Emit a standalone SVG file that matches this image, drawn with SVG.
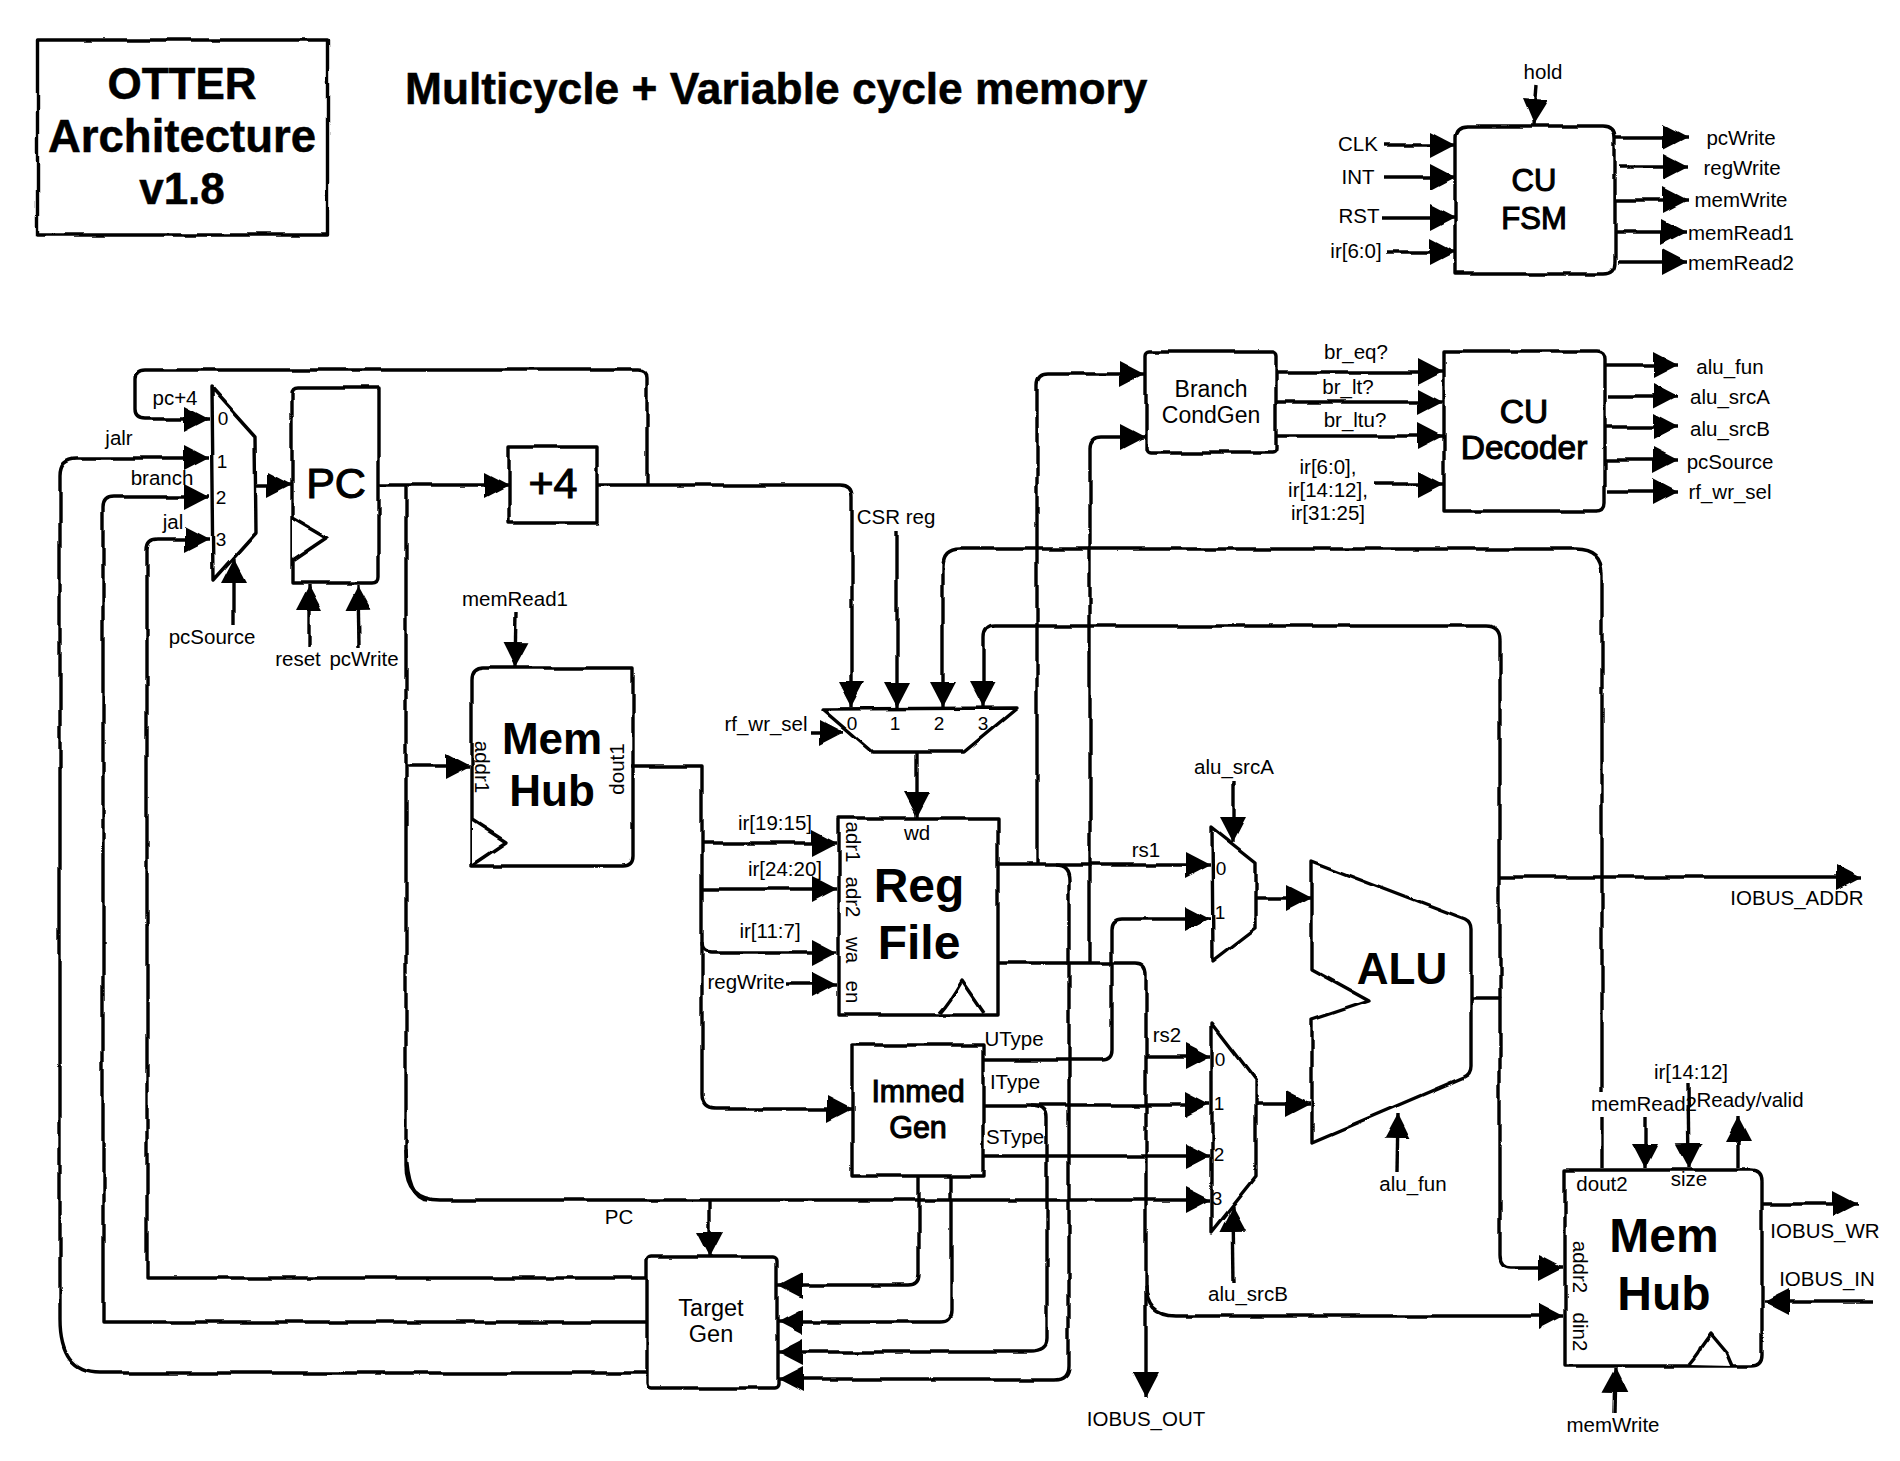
<svg xmlns="http://www.w3.org/2000/svg" width="1900" height="1461" viewBox="0 0 1900 1461">
<style>
text{font-family:"Liberation Sans",Arial,sans-serif;fill:#000}
.l{font-size:20.5px}
.d{font-size:19px}
.m{text-anchor:middle}
.b{font-weight:700}
.s{fill:#fff;stroke:#000;stroke-width:3.4;stroke-linejoin:round;filter:url(#w)}
.n{fill:none;stroke:#000;stroke-width:3.4;stroke-linejoin:round}
.t{font-size:44px;font-weight:700;text-anchor:middle}
.h{text-anchor:middle;stroke:#000;stroke-width:1.1}
</style>
<defs>
<filter id="w" filterUnits="userSpaceOnUse" x="0" y="0" width="1900" height="1461"><feTurbulence type="fractalNoise" baseFrequency="0.025" numOctaves="2" seed="4"/><feDisplacementMap in="SourceGraphic" scale="5" xChannelSelector="R" yChannelSelector="G"/></filter>
<marker id="a" markerUnits="userSpaceOnUse" markerWidth="26" markerHeight="28" refX="25" refY="14" orient="auto"><path d="M0,1 L25,14 L0,27 Z" fill="#000"/></marker>
</defs>
<rect width="1900" height="1461" fill="#fff"/>

<g id="title">
<rect class="s" x="37.500" y="40" width="290" height="195"/>
<text class="t" style="stroke:#000;stroke-width:.5" x="182" y="99">OTTER</text>
<text class="t" style="font-size:45.500px;stroke:#000;stroke-width:.5" x="182" y="152">Architecture</text>
<text class="t" style="stroke:#000;stroke-width:.5" x="182" y="204">v1.8</text>
<text class="b" x="405" y="104" style="font-size:44.300px;stroke:#000;stroke-width:.5">Multicycle + Variable cycle memory</text>
</g>

<g id="cu-fsm">
<path class="s" d="M1455,274 V138 Q1455,126 1467,126 H1603 Q1615,126 1615,138 V262 Q1615,274 1603,274 Z"/>
<text class="h" style="font-size:31px" x="1534" y="191">CU</text>
<text class="h" style="font-size:31px" x="1534" y="229">FSM</text>
</g>
<g id="cu-decoder">
<path class="s" d="M1444,351 H1597 Q1605,351 1605,359 V503 Q1605,511 1597,511 H1444 Z"/>
<text class="h" style="font-size:33.500px" x="1524" y="423">CU</text>
<text class="h" style="font-size:33.500px" x="1524" y="459">Decoder</text>
</g>
<g id="branch-condgen">
<rect class="s" x="1146" y="352" width="130" height="101" rx="4"/>
<text class="l m" style="font-size:23px" x="1211" y="397">Branch</text>
<text class="l m" style="font-size:23px" x="1211" y="423">CondGen</text>
</g>
<g id="pc-mux">
<path class="s" d="M211,388 L255,437 L256,533 L213,581 Z"/>
<text class="d m" x="223" y="425">0</text><text class="d m" x="222" y="468">1</text><text class="d m" x="221" y="504">2</text><text class="d m" x="221" y="546">3</text>
</g>
<g id="pc">
<path class="s" d="M292,583 V394 Q292,388 298,388 H379 V577 Q379,583 373,583 Z"/>
<path class="s" d="M292,517 L326,537 L292,560"/>
<text class="h" style="font-size:43px" x="336" y="498">PC</text>
</g>
<g id="plus4">
<rect class="s" x="509" y="447" width="88" height="76"/>
<text class="h" style="font-size:43px" x="553" y="498">+4</text>
</g>
<g id="mem-hub-1">
<path class="s" d="M472,866 V680 Q472,668 484,668 H633 V856 Q633,866 623,866 Z"/>
<path class="s" d="M472,820 L506,842 L472,865"/>
<text class="t" x="552" y="754">Mem</text>
<text class="t" x="552" y="806">Hub</text>
<text class="l m" transform="rotate(90 482 767)" x="482" y="774">addr1</text>
<text class="l m" transform="rotate(-90 617 769)" x="617" y="776">dout1</text>
</g>
<g id="rf-mux">
<path class="s" d="M822,709 L1017,708 L964,752 L872,752 Z"/>
<text class="d m" x="852" y="730">0</text><text class="d m" x="895" y="730">1</text><text class="d m" x="939" y="730">2</text><text class="d m" x="983" y="730">3</text>
</g>
<g id="reg-file">
<rect class="s" x="839" y="818" width="159" height="197"/>
<path class="s" d="M940,1013 Q950,1002 962,981 L984,1013"/>
<text class="t" style="font-size:48px" x="919" y="902">Reg</text>
<text class="t" style="font-size:48px" x="919" y="959">File</text>
<text class="l m" x="917" y="840">wd</text>
<text class="l m" transform="rotate(90 853 842)" x="853" y="849">adr1</text>
<text class="l m" transform="rotate(90 853 897)" x="853" y="904">adr2</text>
<text class="l m" transform="rotate(90 853 950)" x="853" y="957">wa</text>
<text class="l m" transform="rotate(90 853 992)" x="853" y="999">en</text>
</g>
<g id="immed-gen">
<rect class="s" x="852" y="1045" width="131" height="131"/>
<text class="h" style="font-size:30.500px" x="918" y="1102">Immed</text>
<text class="h" style="font-size:30.500px" x="918" y="1138">Gen</text>
</g>
<g id="target-gen">
<rect class="s" x="647" y="1257" width="130" height="131" rx="4"/>
<text class="l m" style="font-size:23.500px" x="711" y="1316">Target</text>
<text class="l m" style="font-size:23.500px" x="711" y="1342">Gen</text>
</g>
<g id="mux-a">
<path class="s" d="M1212,827 L1256,862 L1256,928 L1213,961 Z"/>
<text class="d m" x="1221" y="875">0</text><text class="d m" x="1220" y="919">1</text>
</g>
<g id="mux-b">
<path class="s" d="M1212,1023 L1256,1080 L1256,1177 L1212,1232 Z"/>
<text class="d m" x="1220" y="1066">0</text><text class="d m" x="1219" y="1110">1</text><text class="d m" x="1219" y="1161">2</text><text class="d m" x="1217" y="1205">3</text>
</g>
<g id="alu">
<path class="s" d="M1311,861 L1465,920 Q1471,923 1471,930 L1471,1066 Q1471,1074 1464,1077 L1312,1142 L1312,1020 L1369,1001 L1311,969 Z"/>
<text class="t" x="1402" y="984">ALU</text>
</g>
<g id="mem-hub-2">
<path class="s" d="M1565,1170 H1751 Q1762,1170 1762,1181 V1355 Q1762,1366 1751,1366 H1565 Z"/>
<path class="s" d="M1689,1365 Q1700,1352 1701,1347 L1711,1333 L1727,1352 L1733,1366"/>
<text class="t" style="font-size:48px" x="1664" y="1252">Mem</text>
<text class="t" style="font-size:48px" x="1664" y="1310">Hub</text>
<text class="l m" x="1602" y="1191">dout2</text>
<text class="l m" x="1689" y="1186">size</text>
<text class="l m" transform="rotate(90 1580 1267)" x="1580" y="1274">addr2</text>
<text class="l m" transform="rotate(90 1580 1332)" x="1580" y="1339">din2</text>
</g>

<g id="connectors" filter="url(#w)">
<g class="n">
<path marker-end="url(#a)" d="M1537,86 L1534,125"/>
<path marker-end="url(#a)" d="M1383,145 H1455"/>
<path marker-end="url(#a)" d="M1383,177 H1455"/>
<path marker-end="url(#a)" d="M1383,218 H1455"/>
<path marker-end="url(#a)" d="M1387,252 H1455"/>
<path marker-end="url(#a)" d="M1616,137 H1688"/>
<path marker-end="url(#a)" d="M1620,167 H1688"/>
<path marker-end="url(#a)" d="M1616,200 H1688"/>
<path marker-end="url(#a)" d="M1616,232 H1686"/>
<path marker-end="url(#a)" d="M1618,262 H1688"/>
<path marker-end="url(#a)" d="M1276,372 H1443"/>
<path marker-end="url(#a)" d="M1276,402 H1443"/>
<path marker-end="url(#a)" d="M1276,436 H1443"/>
<path marker-end="url(#a)" d="M1374,484 H1443"/>
<path marker-end="url(#a)" d="M1606,365 H1678"/>
<path marker-end="url(#a)" d="M1608,396 H1678"/>
<path marker-end="url(#a)" d="M1606,427 H1678"/>
<path marker-end="url(#a)" d="M1606,460 H1678"/>
<path marker-end="url(#a)" d="M1608,491 H1678"/>
<path marker-end="url(#a)" d="M647,485 V378 Q647,370 638,370 H145 Q135,370 135,380 V410 Q135,419 145,419 H209"/>
<path marker-end="url(#a)" d="M647,1373 H100 Q60,1373 60,1320 V475 Q60,458 77,458 H209"/>
<path marker-end="url(#a)" d="M647,1322 H103 V507 Q103,496 114,496 H209"/>
<path marker-end="url(#a)" d="M647,1278 H147 V550 Q147,539 158,539 H209"/>
<path marker-end="url(#a)" d="M234,625 V559"/>
<path marker-end="url(#a)" d="M257,485 H292"/>
<path marker-end="url(#a)" d="M379,485 H509"/>
<path marker-end="url(#a)" d="M309,647 V585"/>
<path marker-end="url(#a)" d="M359,647 L358,585"/>
<path marker-end="url(#a)" d="M516,612 L515,667"/>
<path marker-end="url(#a)" d="M406,766 H470"/>
<path marker-end="url(#a)" d="M406,485 V1165 Q406,1200 440,1200 H1210"/>
<path d="M406,1150 Q408,1200 428,1200"/>
<path marker-end="url(#a)" d="M710,1200 V1257"/>
<path marker-end="url(#a)" d="M597,485 H840 Q852,485 852,497 V707"/>
<path marker-end="url(#a)" d="M897,531 V707"/>
<path marker-end="url(#a)" d="M1602,1168 V1117 M1602,1092 V575 Q1602,549 1575,549 H960 Q943,549 943,566 V707"/>
<path marker-end="url(#a)" d="M1500,998 V640 Q1500,626 1486,626 H995 Q983,626 983,638 V707"/>
<path marker-end="url(#a)" d="M810,733 H844"/>
<path marker-end="url(#a)" d="M917,752 V817"/>
<path d="M631,766 H702 V1095 Q702,1109 715,1109"/>
<path marker-end="url(#a)" d="M702,843 H837"/>
<path marker-end="url(#a)" d="M702,889 H837"/>
<path marker-end="url(#a)" d="M702,942 Q702,952 712,952 H837"/>
<path marker-end="url(#a)" d="M787,984 H837"/>
<path marker-end="url(#a)" d="M715,1109 H852"/>
<path marker-end="url(#a)" d="M997,865 H1210"/>
<path marker-end="url(#a)" d="M1037,865 V385 Q1037,374 1048,374 H1145"/>
<path marker-end="url(#a)" d="M1090,963 V448 Q1090,437 1101,437 H1145"/>
<path marker-end="url(#a)" d="M1055,865 Q1069,865 1069,880 V1365 Q1069,1379 1055,1379 H778"/>
<path marker-end="url(#a)" d="M997,963 H1135 Q1146,963 1146,975 V1397"/>
<path marker-end="url(#a)" d="M1146,1285 Q1146,1316 1175,1316 H1563"/>
<path marker-end="url(#a)" d="M1146,1056 H1210"/>
<path marker-end="url(#a)" d="M983,1060 H1102 Q1112,1060 1112,1050 V929 Q1112,919 1122,919 H1210"/>
<path marker-end="url(#a)" d="M983,1105 H1210"/>
<path marker-end="url(#a)" d="M983,1156 H1210"/>
<path marker-end="url(#a)" d="M1030,1105 Q1047,1105 1047,1118 V1340 Q1047,1352 1030,1352 H778"/>
<path marker-end="url(#a)" d="M919,1176 V1274 Q919,1285 908,1285 H778"/>
<path marker-end="url(#a)" d="M951,1176 V1311 Q951,1322 940,1322 H778"/>
<path marker-end="url(#a)" d="M1233,780 V842"/>
<path marker-end="url(#a)" d="M1234,1283 L1233,1207"/>
<path marker-end="url(#a)" d="M1256,898 H1311"/>
<path marker-end="url(#a)" d="M1256,1104 H1310"/>
<path marker-end="url(#a)" d="M1397,1172 L1398,1113"/>
<path marker-end="url(#a)" d="M1471,998 H1500 V1255 Q1500,1267 1511,1267 H1563"/>
<path marker-end="url(#a)" d="M1500,877 H1861"/>
<path marker-end="url(#a)" d="M1645,1117 V1168"/>
<path marker-end="url(#a)" d="M1688,1083 L1689,1168"/>
<path marker-end="url(#a)" d="M1738,1168 V1117"/>
<path marker-end="url(#a)" d="M1763,1204 H1857"/>
<path marker-end="url(#a)" d="M1872,1301 H1764"/>
<path marker-end="url(#a)" d="M1614,1413 L1615,1368"/>
</g>
</g>

<g id="labels" class="l">
<g class="m" transform="translate(0 1)">
<text x="1543" y="78">hold</text>
<text x="1358" y="150">CLK</text><text x="1358" y="183">INT</text><text x="1359" y="222">RST</text><text x="1356" y="257">ir[6:0]</text>
<text x="1741" y="144">pcWrite</text><text x="1742" y="174">regWrite</text><text x="1741" y="206">memWrite</text><text x="1741" y="239">memRead1</text><text x="1741" y="269">memRead2</text>
<text x="1356" y="358">br_eq?</text><text x="1348" y="393">br_lt?</text><text x="1355" y="426">br_ltu?</text>
<text x="1328" y="473">ir[6:0],</text><text x="1328" y="496">ir[14:12],</text><text x="1328" y="519">ir[31:25]</text>
<text x="1730" y="373">alu_fun</text><text x="1730" y="403">alu_srcA</text><text x="1730" y="435">alu_srcB</text><text x="1730" y="468">pcSource</text><text x="1730" y="498">rf_wr_sel</text>
<text x="175" y="404">pc+4</text><text x="119" y="444">jalr</text><text x="162" y="484">branch</text><text x="173" y="528">jal</text>
<text x="212" y="643">pcSource</text><text x="298" y="665">reset</text><text x="364" y="665">pcWrite</text>
<text x="515" y="605">memRead1</text><text x="896" y="523">CSR reg</text><text x="766" y="730">rf_wr_sel</text>
<text x="775" y="829">ir[19:15]</text><text x="785" y="875">ir[24:20]</text><text x="770" y="937">ir[11:7]</text><text x="746" y="988">regWrite</text>
<text x="1234" y="773">alu_srcA</text><text x="1146" y="856">rs1</text><text x="1167" y="1041">rs2</text>
<text x="1014" y="1045">UType</text><text x="1015" y="1088">IType</text><text x="1015" y="1143">SType</text>
<text x="619" y="1223">PC</text><text x="1248" y="1300">alu_srcB</text><text x="1146" y="1425">IOBUS_OUT</text>
<text x="1413" y="1190">alu_fun</text><text x="1797" y="904">IOBUS_ADDR</text>
<text x="1691" y="1078">ir[14:12]</text><text x="1644" y="1110">memRead2</text><text x="1750" y="1106">Ready/valid</text>
<text x="1825" y="1237">IOBUS_WR</text><text x="1827" y="1285">IOBUS_IN</text><text x="1613" y="1431">memWrite</text>
</g>
</g>
</svg>
